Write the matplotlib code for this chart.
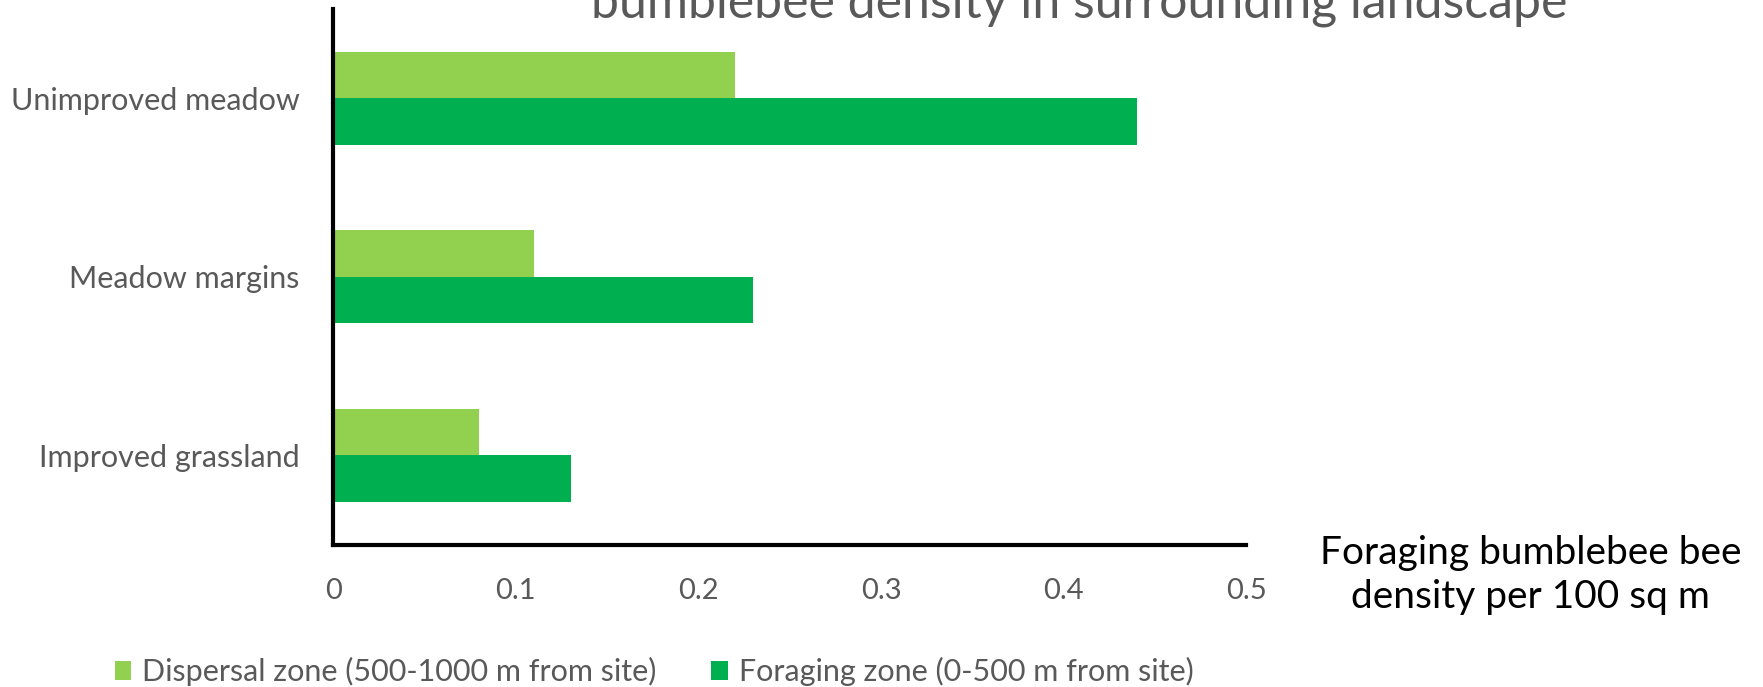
import matplotlib.pyplot as plt
import numpy as np

categories = ["Improved grassland", "Meadow margins", "Unimproved meadow"]
dispersal = [0.08, 0.11, 0.22]
foraging = [0.13, 0.23, 0.44]
xticks = [0, 0.1, 0.2, 0.3, 0.4, 0.5]
xticklabels = ["0", "0.1", "0.2", "0.3", "0.4", "0.5"]

light = "#92D050"
dark = "#00B050"
grey = "#595959"

plt.rcParams['font.family'] = ['Lato', 'DejaVu Sans']

fig = plt.figure(figsize=(17.63, 6.87), dpi=100)
ax = fig.add_axes([0.189, 0.207, 0.518, 0.780])

y = np.arange(len(categories))
h = 0.26
ax.barh(y + h / 2, dispersal, height=h, color=light, label="Dispersal zone (500-1000 m from site)")
ax.barh(y - h / 2, foraging, height=h, color=dark, label="Foraging zone (0-500 m from site)")

ax.set_xlim(0, 0.5)
ax.set_ylim(-0.5, 2.5)
ax.set_yticks(y)
ax.set_yticklabels(categories, fontsize=22, color=grey)
ax.set_xticks(xticks)
ax.set_xticklabels(xticklabels, fontsize=21, color=grey)
ax.tick_params(length=0, pad=24)

for s in ["top", "right"]:
    ax.spines[s].set_visible(False)
for s in ["left", "bottom"]:
    ax.spines[s].set_linewidth(3)
    ax.spines[s].set_color("black")

# title runs off the top edge
fig.text(0.612, 0.975, "bumblebee density in surrounding landscape",
         ha="center", va="baseline", fontsize=36, color=grey)

fig.text(0.868, 0.163, "Foraging bumblebee bee\ndensity per 100 sq m",
         ha="center", va="center", fontsize=28, color="black", linespacing=1.25)

ax.legend(loc="center", bbox_to_anchor=(0.371, 0.022), bbox_transform=fig.transFigure,
          ncol=2, frameon=False, fontsize=22, labelcolor=grey, handlelength=0.55,
          handleheight=0.55, handletextpad=0.35, columnspacing=1.8)

fig.savefig("out.png", dpi=100)
